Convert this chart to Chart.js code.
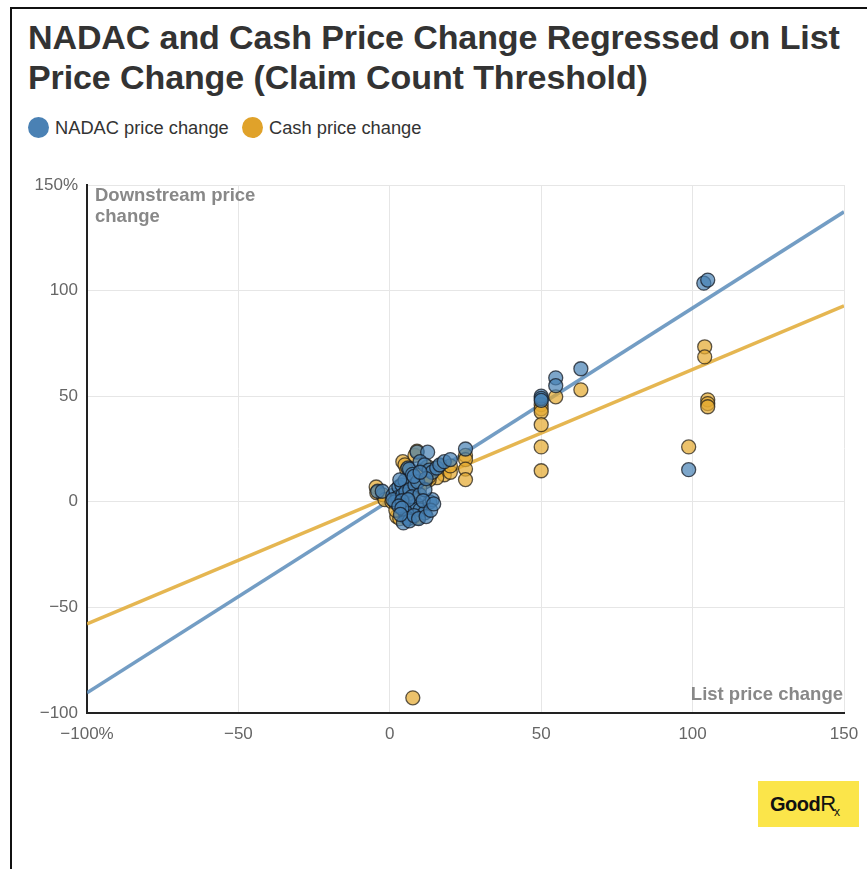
<!DOCTYPE html>
<html>
<head>
<meta charset="utf-8">
<script src="https://cdn.jsdelivr.net/npm/chart.js@4.4.0/dist/chart.umd.min.js"></script>
<style>
  html, body { margin: 0; padding: 0; background: #fff; }
  body { width: 867px; height: 869px; position: relative; overflow: hidden; font-family: "Liberation Sans", Arial, Helvetica, sans-serif; }
  #frame { position: absolute; left: 10px; top: 7px; width: 870px; height: 900px; border-top: 2px solid #111; border-left: 2px solid #111; }
  #title { position: absolute; left: 28px; top: 17px; width: 840px; font-weight: bold; font-size: 34px; line-height: 40px; color: #333; letter-spacing: -0.1px; white-space: nowrap; }
  .leg { position: absolute; top: 117px; height: 22px; font-size: 18.3px; color: #333; line-height: 22px; }
  .leg span.dot { position: absolute; left: 0; top: 0; width: 21px; height: 21px; border-radius: 50%; }
  .leg span.txt { position: absolute; left: 27px; top: 0; white-space: nowrap; }
  #logo { position: absolute; left: 758px; top: 781px; width: 101px; height: 46px; background: #fbe54a; }
  #logo .t { position: absolute; left: 12px; top: 11px; font-size: 20px; color: #111; white-space: nowrap; line-height: 24px; }
  #logo .g { font-weight: bold; letter-spacing: -0.5px; }
  #logo .r { font-weight: normal; font-size: 22px; }
  #logo .x { font-size: 12px; position: relative; top: 5px; left: -2px; }
  canvas { position: absolute; left: 0; top: 0; }
</style>
</head>
<body>
<div id="frame"></div>
<div id="title">NADAC and Cash Price Change Regressed on List<br>Price Change (Claim Count Threshold)</div>
<div class="leg" style="left:28px;"><span class="dot" style="background:#4a81b4;"></span><span class="txt">NADAC price change</span></div>
<div class="leg" style="left:242px;"><span class="dot" style="background:#e0a22a;"></span><span class="txt">Cash price change</span></div>
<canvas id="c" width="867" height="869"></canvas>
<div id="logo"><span class="t"><span class="g">Good</span><span class="r">R</span><span class="x">x</span></span></div>
<script>
// ---- data (percent changes) ----
const nadacX = [103.7,105,98.7,63.1,54.8,54.8,50,50,50,
  -4,-2.5,1,2,3,4,5,6,6.5,7.5,9,12.5,10,11.5,13,14,15.5,16.5,18,20,25,
  5,5,5.5,6,7.3,9,10,11.6,13.2,14,2.6,1.7,1,3.3,4.3,5.3,6.6,8.3,9.2,7.3,9.9,11.6,4,6,3,8,12,10,4,6,11,
  4.5,6.5,8,9.5,12,13.5,14.5,3.5];
const nadacY = [103.5,105,15.2,63,58.7,55,50,49,48,
  5,5,3,5.5,7,8,10,16,15.5,13,23.5,23.5,19,17.5,15,14,16,17.5,19,20,25,
  -1.5,-5,-7.5,-5.7,-2.8,-1.4,-3.8,-5.2,0,1,2,0,1,10.4,3.3,4.7,5.7,8,9.5,2.4,3.3,5.7,0.5,1,-2,12,11,14,-3,-8,0.5,
  -10,-9,-6.5,-8,-7,-4,-1,-6];
const cashX = [104,104,105,105,105,98.7,63.1,54.8,50,50,50,50,50,50,7.6,25,25,25,25,
  -4.5,-4.3,-2.3,-1.6,0.7,2.3,3.3,7.6,9.2,4.3,5,8.3,9,16.5,18,15.5,13,11.6,9.9,6.6,5,5.6,10.6,12.5,20,20,3,8,10,13,2];
const cashY = [73.4,68.6,48.3,46.5,45,26,53,49.7,46,44,42.5,36.5,26,14.7,-92.8,22,20,15.5,10.5,
  7,4.3,3.3,1,0,-7,-8,-7.6,-7.6,19,17.5,22,24,17,12.8,11.4,10.4,9.5,6.6,5.7,1,15,15,16.6,14,17,2,3,-3,12,-4];
// regression lines (endpoints read at x = -100 and x = 150)
const lineX = [-100, 150];
const nadacFitY = [-90.4, 137.3];
const cashFitY = [-57.8, 92.8];
// ticks
const xTicks = [-100, -50, 0, 50, 100, 150];
const yTicks = [-100, -50, 0, 50, 100, 150];
const xTickLabels = ["\u2212100%", "\u221250", "0", "50", "100", "150"];
const yTickLabels = ["\u2212100", "\u221250", "0", "50", "100", "150%"];

const pts = (xs, ys) => xs.map((x, i) => ({x, y: ys[i]}));

const annot = {
  id: 'annot',
  afterDraw(chart) {
    const {ctx, chartArea: a} = chart;
    ctx.save();
    ctx.fillStyle = '#888';
    ctx.font = 'bold 18.5px "Liberation Sans", Arial, sans-serif';
    ctx.textBaseline = 'alphabetic';
    ctx.textAlign = 'left';
    ctx.fillText('Downstream price', a.left + 8, a.top + 16);
    ctx.fillText('change', a.left + 8, a.top + 37);
    ctx.textAlign = 'right';
    ctx.fillText('List price change', a.right - 1, a.bottom - 13);
    ctx.restore();
  }
};

new Chart(document.getElementById('c'), {
  type: 'scatter',
  data: {
    datasets: [
      { label: 'NADAC fit', type: 'line', data: pts(lineX, nadacFitY), borderColor: 'rgba(90,140,186,0.85)', borderWidth: 3.5, pointRadius: 0, fill: false, order: 4 },
      { label: 'Cash fit', type: 'line', data: pts(lineX, cashFitY), borderColor: 'rgba(226,174,62,0.9)', borderWidth: 3.5, pointRadius: 0, fill: false, order: 3 },
      { label: 'Cash price change', data: pts(cashX, cashY), backgroundColor: 'rgba(228,170,50,0.72)', borderColor: 'rgba(40,35,25,0.75)', borderWidth: 1.3, pointRadius: 7, order: 2 },
      { label: 'NADAC price change', data: pts(nadacX, nadacY), backgroundColor: 'rgba(70,128,180,0.7)', borderColor: 'rgba(20,25,35,0.75)', borderWidth: 1.3, pointRadius: 7, order: 1 }
    ]
  },
  options: {
    responsive: false,
    animation: false,
    layout: { padding: { left: 0, top: 185, right: 23, bottom: 100 } },
    plugins: { legend: { display: false }, tooltip: { enabled: false } },
    scales: {
      x: {
        type: 'linear', min: -100, max: 150,
        afterBuildTicks: s => { s.ticks = xTicks.map(v => ({value: v})); },
        afterFit: s => { s.height = 56; s.paddingLeft = 0; s.paddingRight = 0; },
        grid: { color: '#e6e6e6', lineWidth: 1, drawTicks: false },
        border: { display: true, color: '#222', width: 2 },
        ticks: { padding: 11, color: '#666', font: { size: 17, family: '"Liberation Sans", Arial, sans-serif' },
          maxRotation: 0, callback: (v) => xTickLabels[xTicks.indexOf(v)] }
      },
      y: {
        type: 'linear', min: -100, max: 150,
        afterBuildTicks: s => { s.ticks = yTicks.map(v => ({value: v})); },
        afterFit: s => { s.width = 87; s.paddingTop = 0; s.paddingBottom = 0; },
        grid: { color: '#e6e6e6', lineWidth: 1, drawTicks: false },
        border: { display: true, color: '#222', width: 2 },
        ticks: { padding: 9, color: '#666', font: { size: 17, family: '"Liberation Sans", Arial, sans-serif' },
          callback: (v) => yTickLabels[yTicks.indexOf(v)] }
      }
    }
  },
  plugins: [annot]
});
</script>
</body>
</html>
